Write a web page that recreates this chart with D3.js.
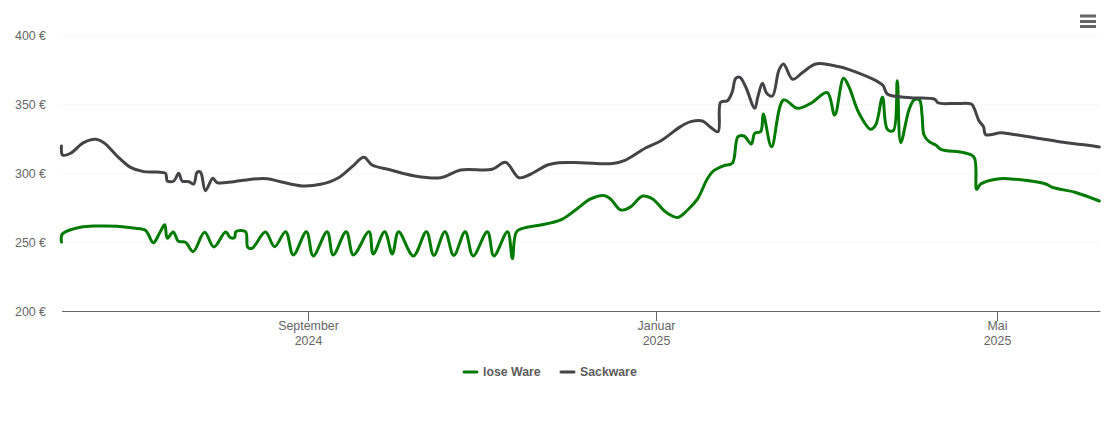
<!DOCTYPE html>
<html>
<head>
<meta charset="utf-8">
<title>Preisverlauf</title>
<script src="https://cdn.jsdelivr.net/npm/d3@7"></script>
<style>
    html, body { margin: 0; padding: 0; background: #fff; }
    svg { display: block; font-family: "Liberation Sans", Arial, sans-serif; }
</style>
</head>
<body>
<div id="chart"></div>
<script>
// days since the first date of the chart, prices in euro
var startDate = Date.UTC(2024, 5, 6);
var endDate = Date.UTC(2025, 5, 6);

var looseDays = [0, 0.3, 6.7, 12.6, 19.6, 25.3, 29.5, 32.3, 34.5, 36.3, 37.2, 39.3, 41.1, 43.6, 46.3, 50.3, 53.6, 57.7, 59.4, 60.9,
    61.3, 64.7, 65.5, 67, 71.7, 74.9, 78.8, 81.5, 86.1, 88.5, 93.4, 95.5, 100.1, 102.6, 108.1, 109.6, 113.6, 116.3, 118.5, 123.7,
    128.3, 130.9, 134.8, 137.9, 141.9, 144.7, 149.7, 152, 156.8, 158.5, 160, 163.7, 168.4, 175.5, 180.7, 186, 190.6, 193, 196.6, 200,
    204.3, 207.8, 212.4, 216.6, 220.1, 223.6, 227, 229.3, 232.8, 235.8, 237.8, 239.9, 242.5, 243.7, 245.8, 246.7, 249.6, 253.8, 258.7, 263.4,
    269.2, 271.8, 274.9, 276.8, 280.3, 284.4, 286.2, 288.6, 290.3, 292.4, 293.8, 295, 297.9, 299.7, 301.6, 302.5, 303.2, 305, 307.3, 309.1, 317.3,
    320.8, 321.7, 323.1, 329, 333.7, 340.7, 346, 348.5, 356.5, 364.8];
var looseValues = [250, 255.8, 260.7, 261.6, 261.4, 260.1, 258.5, 249.5, 256.5, 262.5, 252.7, 257.2, 250.5, 249.8, 243, 257, 246.4, 257.2, 253.1, 253.4,
    257.5, 257.5, 246.2, 245.4, 257.2, 246.6, 257.5, 240.6, 257.5, 239.9, 257.5, 240.6, 257.5, 240.6, 257.5, 241.3, 257.5, 241.3, 257.5, 239.9,
    257.5, 240.2, 257.5, 240.2, 257.5, 239.9, 257.5, 239.9, 257.5, 238, 257.5, 260.7, 262.3, 266, 273.2, 281.2, 283.7, 281.2, 273.2, 275.4,
    283.3, 281.2, 271.7, 267.8, 273.2, 281.2, 295.7, 301.7, 305.3, 307, 326.3, 326.8, 321, 328.8, 330, 342.8, 319, 352.9, 346.9, 350.5,
    358.2, 342, 368.6, 362.5, 343.5, 331.7, 334.8, 354.9, 331.7, 330.7, 366.9, 322, 345.7, 352.9, 352.9, 342, 327.5, 322.7, 320.3, 317.2, 314.7,
    311.4, 288.2, 292, 295.7, 295.7, 294.2, 292, 289.5, 285.9, 279.7];

var sackDays = [0, 0.4, 3.2, 7.8, 12, 14.9, 19.6, 24.3, 28.9, 33.6, 36.6, 37.2, 39.5, 41.2, 42.4, 44.8, 46.5, 47.7, 48.9, 50.6,
    53.2, 54.7, 60.5, 67.5, 72.3, 77, 84.6, 91.1, 97.4, 102.2, 106.3, 109.2, 115.7, 123.8, 133.3, 140.3, 151.4, 156.1, 160.8, 164.9,
    170.8, 174.8, 182.5, 193.7, 198.3, 205.3, 210.6, 217.6, 221.2, 225.3, 228.2, 230.8, 231.7, 234.1, 235.8, 237, 238.5, 240.5, 243.7, 244.8,
    246.4, 247.9, 249.9, 252.2, 253.8, 257, 260.4, 265.1, 270.4, 277.4, 288.6, 290.3, 298.5, 307, 308.1, 314, 319.8, 320.8, 322.5, 324.1, 324.9, 330.2,
    333.7, 342.5, 351.3, 360.1, 364.8];
var sackValues = [319.6, 313, 314.3, 322, 324.4, 322, 312.3, 304.1, 301, 300.7, 299.8, 294.2, 294.2, 299.8, 294.2, 293.7, 292, 300.5, 300.5, 287.2,
    296.2, 293, 293.7, 295.7, 295.9, 293.7, 290.6, 291.8, 296.6, 304.6, 311.4, 305.8, 302.2, 298, 296.6, 302.2, 302.7, 307.8, 296.6, 299.1,
    305.8, 307.5, 307.5, 306.9, 309.4, 318.1, 323.2, 333.6, 337.2, 337.7, 333.1, 329.9, 351.2, 352.4, 358.9, 368.6, 369.3, 362.5, 346.9, 355.3,
    365, 357.8, 355.8, 374.6, 379, 367.9, 372.7, 379, 378.3, 374.6, 363.8, 357.2, 354.6, 353.4, 350.9, 350.3, 350, 347, 337.9, 333.5, 327.8, 329.2,
    328.3, 325.4, 322.5, 320.3, 318.8];

var yTicks = [200, 250, 300, 350, 400];
var xTicks = [Date.UTC(2024, 8, 1), Date.UTC(2025, 0, 1), Date.UTC(2025, 4, 1)];
var xTickLabels = [["September", "2024"], ["Januar", "2025"], ["Mai", "2025"]];
var seriesNames = ["lose Ware", "Sackware"];
var seriesColors = ["#007a00", "#434348"];

var width = 1110;
var height = 422;
var dayMs = 24 * 60 * 60 * 1000;

var x = d3.scaleUtc().domain([startDate, endDate]).range([61.45, 1099.85]);
var y = d3.scaleLinear().domain([200, 400]).range([311, 35]);

var svg = d3.select("#chart").append("svg")
    .attr("width", width)
    .attr("height", height);

// grid lines
svg.append("g").selectAll("line")
    .data(yTicks.slice(1))
    .enter().append("line")
    .attr("x1", 61)
    .attr("x2", 1099)
    .attr("y1", function (d) { return y(d) + 0.5; })
    .attr("y2", function (d) { return y(d) + 0.5; })
    .attr("stroke", "#e6e6e6")
    .attr("stroke-dasharray", "1,3");

// y axis, labels only
var yAxis = svg.append("g")
    .attr("transform", "translate(46,0.5)")
    .call(d3.axisLeft(y).tickValues(yTicks).tickSize(0).tickPadding(0).tickFormat(function (d) { return d + " €"; }));
yAxis.select(".domain").remove();
yAxis.selectAll("text")
    .attr("font-size", 12.4)
    .attr("font-family", "'Liberation Sans', Arial, sans-serif")
    .attr("fill", "#666666");

// x axis
var xAxis = svg.append("g")
    .attr("transform", "translate(0,311)")
    .call(d3.axisBottom(x).tickValues(xTicks).tickSize(10).tickSizeOuter(0).tickFormat(""));
xAxis.select(".domain").attr("stroke", "#666666");
xAxis.selectAll(".tick")
    .attr("transform", function (d) { return "translate(" + (Math.floor(x(d)) + 0.5) + ",0)"; });
xAxis.selectAll(".tick line").attr("stroke", "#666666").attr("x1", 0).attr("x2", 0);
xAxis.selectAll(".tick text").each(function (d, i) {
    var label = d3.select(this)
        .attr("y", 19)
        .attr("dy", 0)
        .attr("font-size", 12.4)
        .attr("font-family", "'Liberation Sans', Arial, sans-serif")
        .attr("fill", "#666666");
    label.selectAll("tspan")
        .data(xTickLabels[i])
        .enter().append("tspan")
        .attr("x", 0)
        .attr("y", function (t, j) { return 19 + j * 15; })
        .text(function (t) { return t; });
});

// lines
var line = d3.line()
    .x(function (d) { return x(startDate + d[0] * dayMs); })
    .y(function (d) { return y(d[1]); })
    .curve(d3.curveCatmullRom.alpha(0.5));

var looseData = d3.zip(looseDays, looseValues);
var sackData = d3.zip(sackDays, sackValues);

svg.selectAll(".series")
    .data([looseData, sackData])
    .enter().append("path")
    .attr("class", "series")
    .attr("d", line)
    .attr("fill", "none")
    .attr("stroke", function (d, i) { return seriesColors[i]; })
    .attr("stroke-width", 3)
    .attr("stroke-linejoin", "round")
    .attr("stroke-linecap", "round");

// legend
var legend = svg.selectAll(".legend")
    .data(seriesNames)
    .enter().append("g")
    .attr("class", "legend")
    .attr("transform", function (d, i) { return "translate(" + (i === 0 ? 463 : 560) + ",372)"; });
legend.append("line")
    .attr("x1", 1)
    .attr("x2", 14)
    .attr("stroke", function (d, i) { return seriesColors[i]; })
    .attr("stroke-width", 3)
    .attr("stroke-linecap", "round");
legend.append("text")
    .attr("x", 20)
    .attr("y", 4)
    .attr("font-size", 12.3)
    .attr("font-weight", "bold")
    .attr("fill", "#5c5c5c")
    .text(function (d) { return d; });

// export menu icon
svg.append("g").selectAll("line")
    .data([16, 21.5, 26.5])
    .enter().append("line")
    .attr("x1", 1080)
    .attr("x2", 1096)
    .attr("y1", function (d) { return d; })
    .attr("y2", function (d) { return d; })
    .attr("stroke", "#666666")
    .attr("stroke-width", 3);
</script>
</body>
</html>
